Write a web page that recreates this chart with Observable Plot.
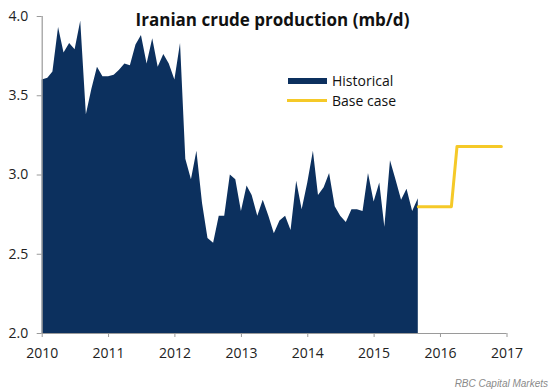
<!DOCTYPE html>
<html>
<head>
<meta charset="utf-8">
<script src="https://cdn.jsdelivr.net/npm/d3@7"></script>
<script src="https://cdn.jsdelivr.net/npm/@observablehq/plot@0.6"></script>
<style>
  body { margin: 0; background: #fff; }
  #wrap { position: relative; width: 550px; height: 392px; font-family: "Open Sans", sans-serif; overflow: hidden; }
  #wrap svg { position: absolute; left: 0; top: 0; }
  .abs { position: absolute; white-space: nowrap; }
  #title { left: 0; width: 545px; top: 10px; text-align: center; font-size: 17px; line-height: 20px; font-weight: 700; color: #111; }
  .leg { font-size: 14px; line-height: 20px; color: #111; }
  #caption { right: 2px; top: 378px; font-family: "Liberation Sans", Arial, sans-serif; font-style: italic; font-size: 10px; line-height: 12px; color: #8a8a8a; }
</style>
</head>
<body>
<div id="wrap"></div>
<script>
// ---- data ----
const startYear = 2010;
const historicalValues = [
  // 2010
  3.60, 3.61, 3.65, 3.93, 3.77, 3.83, 3.79, 3.97, 3.38, 3.54, 3.68, 3.62,
  // 2011
  3.62, 3.63, 3.66, 3.70, 3.69, 3.82, 3.88, 3.70, 3.86, 3.68, 3.76, 3.70,
  // 2012
  3.60, 3.83, 3.10, 2.97, 3.15, 2.82, 2.60, 2.57, 2.74, 2.74, 3.00, 2.97,
  // 2013
  2.77, 2.93, 2.87, 2.74, 2.84, 2.74, 2.63, 2.71, 2.74, 2.65, 2.96, 2.78,
  // 2014
  2.95, 3.15, 2.87, 2.92, 3.01, 2.80, 2.74, 2.70, 2.78, 2.78, 2.77, 3.01,
  // 2015 (Jan - Sep)
  2.83, 2.95, 2.67, 3.09, 2.97, 2.84, 2.91, 2.77, 2.85
];
const baseCaseMonths = ["2015-09", "2016-03", "2016-04", "2016-12"];
const baseCaseValues = [2.80, 2.80, 3.18, 3.18];
const yTicks = [2.0, 2.5, 3.0, 3.5, 4.0];
const xTickYears = [2010, 2011, 2012, 2013, 2014, 2015, 2016, 2017];
const titleText = "Iranian crude production (mb/d)";
const legendLabels = ["Historical", "Base case"];
const captionText = "RBC Capital Markets";

const navy = "#0c305e";
const yellow = "#f5c928";
const axisGray = "#9a9a9a";

// ---- derived tables ----
const historical = historicalValues.map((v, i) => ({
  date: new Date(Date.UTC(startYear + Math.floor(i / 12), i % 12, 1)),
  value: v
}));
const baseCase = baseCaseMonths.map((m, i) => {
  const [y, mo] = m.split("-").map(Number);
  return { date: new Date(Date.UTC(y, mo - 1, 1)), value: baseCaseValues[i] };
});
const xTicks = xTickYears.map(y => new Date(Date.UTC(y, 0, 1)));
const xMin = xTicks[0], xMax = xTicks[xTicks.length - 1];

const chart = Plot.plot({
  width: 550,
  height: 392,
  marginLeft: 41.7,
  marginRight: 43.5,
  marginTop: 16,
  marginBottom: 59,
  x: { type: "utc", domain: [xMin, xMax] },
  y: { domain: [2, 4] },
  style: { fontFamily: "Open Sans, sans-serif", fontSize: "14px", color: "#222", background: "transparent" },
  marks: [
    Plot.areaY(historical, { x: "date", y1: 2, y2: "value", fill: navy, curve: "linear" }),
    Plot.line(baseCase, { x: "date", y: "value", stroke: yellow, strokeWidth: 3, curve: "linear" }),
    Plot.ruleY([2], { stroke: axisGray, strokeWidth: 1.2 }),
    Plot.ruleX([xMin], { stroke: axisGray, strokeWidth: 1.2 }),
    Plot.axisY({ ticks: yTicks, tickFormat: d => d.toFixed(1), tickSize: 5, tickPadding: 9, stroke: axisGray, label: null, fontSize: 14 }),
    Plot.axisX({ ticks: xTicks, tickFormat: d3.utcFormat("%Y"), tickSize: 4, tickPadding: 11, stroke: axisGray, label: null, fontSize: 14 })
  ]
});

const wrap = document.getElementById("wrap");
wrap.appendChild(chart);

function addDiv(id, cls, text, style) {
  const d = document.createElement("div");
  if (id) d.id = id;
  d.className = cls;
  if (text) d.textContent = text;
  Object.assign(d.style, style || {});
  wrap.appendChild(d);
  return d;
}
addDiv("title", "abs", titleText);
// legend
addDiv(null, "abs", "", { left: "288px", top: "78px", width: "39px", height: "6px", background: navy });
addDiv(null, "abs leg", legendLabels[0], { left: "332px", top: "71px" });
addDiv(null, "abs", "", { left: "287px", top: "99px", width: "40px", height: "3px", background: yellow });
addDiv(null, "abs leg", legendLabels[1], { left: "332px", top: "90.5px" });
addDiv("caption", "abs", captionText);
</script>
</body>
</html>
